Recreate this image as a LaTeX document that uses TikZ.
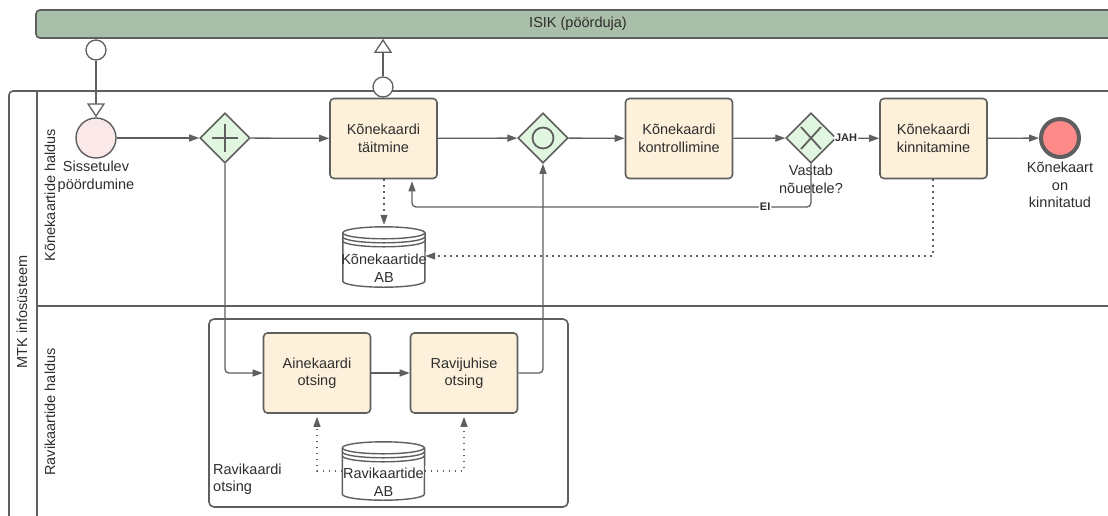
\documentclass[tikz,border=0pt]{standalone}
\usepackage{fontspec}
\setmainfont{Liberation Sans}
\usetikzlibrary{shapes.geometric,arrows.meta,calc}

\definecolor{edge}{HTML}{5F5F5F}
\definecolor{txt}{HTML}{2E2E2E}
\definecolor{poolfill}{HTML}{A9BFA9}
\definecolor{taskfill}{HTML}{FEF1DB}
\definecolor{gwfill}{HTML}{E0F6E1}
\definecolor{startfill}{HTML}{FBE9E9}
\definecolor{endfill}{HTML}{FF8A8A}

\tikzset{
  poolline/.style={draw=edge, line width=1.6pt},
  isikpool/.style={rectangle, rounded corners=4pt, draw=edge, line width=1.6pt, fill=poolfill,
    minimum width=1084pt, minimum height=28pt, inner sep=0pt},
  lanelabel/.style={rotate=90, inner sep=0pt},
  task/.style={rectangle, rounded corners=4pt, draw=edge, line width=1.6pt, fill=taskfill,
    minimum width=107pt, minimum height=80pt, align=center, inner sep=2pt, text=txt},
  subproc/.style={rectangle, rounded corners=5pt, draw=edge, line width=1.6pt,
    minimum width=359pt, minimum height=188pt, inner sep=0pt},
  gw/.style={diamond, draw=edge, line width=1.6pt, fill=gwfill,
    minimum width=50pt, minimum height=50pt, inner sep=0pt},
  gwsym/.style={draw=edge, line width=1.8pt},
  startev/.style={circle, draw=edge, line width=1.4pt, fill=startfill, minimum size=40pt, inner sep=0pt},
  endev/.style={circle, draw=edge, line width=4pt, fill=endfill, minimum size=38pt, inner sep=0pt},
  msgdot/.style={circle, draw=edge, line width=1.3pt, fill=white, minimum size=20pt, inner sep=0pt},
  evlabel/.style={align=center, inner sep=0pt, text=txt},
  flow/.style={draw=edge, line width=1.3pt, rounded corners=4pt, -{Triangle[length=10pt,width=7pt]}},
  assoc/.style={draw=edge, line width=1.3pt, dash pattern=on 1.6pt off 4.4pt, -{Triangle[length=10pt,width=7pt]}},
  msg/.style={draw=edge, line width=1.3pt, -{Triangle[open,length=14pt,width=18pt,fill=white]}},
  dbbox/.style={rectangle, draw=none, minimum width=82pt, inner sep=0pt},
  dbline/.style={draw=edge, line width=1.4pt},
  flowtag/.style={fill=white, inner sep=1pt, font=\fontsize{11}{13}\selectfont\bfseries, text=txt},
}

% data store drum drawn inside a named box node
\newcommand\dbdrum[1]{%
  \fill[white] ([yshift=-6pt]#1.north west) -- ([yshift=6pt]#1.south west)
    arc[start angle=180,end angle=360,x radius=41pt,y radius=6pt]
    -- ([yshift=-6pt]#1.north east)
    arc[start angle=0,end angle=180,x radius=41pt,y radius=6pt] -- cycle;
  \draw[dbline] ([yshift=-6pt]#1.north west) -- ([yshift=6pt]#1.south west)
    arc[start angle=180,end angle=360,x radius=41pt,y radius=6pt]
    -- ([yshift=-6pt]#1.north east);
  \draw[dbline] ([yshift=-6pt]#1.north west)
    arc[start angle=180,end angle=-180,x radius=41pt,y radius=6pt];
  \draw[dbline] ([yshift=-10pt]#1.north west)
    arc[start angle=180,end angle=360,x radius=41pt,y radius=6pt];
  \draw[dbline] ([yshift=-14pt]#1.north west)
    arc[start angle=180,end angle=360,x radius=41pt,y radius=6pt];
}

\begin{document}
\begin{tikzpicture}[x=1pt, y=-1pt, font=\fontsize{14.5}{17.5}\selectfont, text=txt]
\useasboundingbox (0,0) rectangle (1108,515);
\clip (0,0) rectangle (1108,515);
\fill[white] (0,0) rectangle (1108,515);

% ---- external participant pool
\node[isikpool] (isik) at (578,24) {ISIK (pöörduja)};

% ---- system pool with its two lanes
\draw[poolline, rounded corners=4pt] (1130,91) -- (9,91) -- (9,540);
\draw[poolline] (37,91) -- (37,540);
\draw[poolline] (37,306) -- (1130,306);
\node[lanelabel] (poolname) at (22,312) {MTK infosüsteem};
\node[lanelabel] (lane1) at (50,195) {Kõnekaartide haldus};
\node[lanelabel] (lane2) at (50,412) {Ravikaartide haldus};

% ---- embedded sub-process
\node[subproc] (sub) at (388.5,413) {};
\node[evlabel, align=left, anchor=west] (subname) at (213,479) {Ravikaardi\\otsing};

% ---- events
\node[startev] (start) at (96,138) {};
\node[evlabel] (startlbl) at (96,176.5) {Sissetulev\\pöördumine};
\node[endev] (end) at (1060,138) {};
\node[evlabel] (endlbl) at (1060,185) {Kõnekaart\\on\\kinnitatud};

% ---- gateways
\node[gw] (split) at (225,138) {};
\draw[gwsym] ($(split)+(0,-14)$) -- ($(split)+(0,14)$);
\draw[gwsym] ($(split)+(-13,0)$) -- ($(split)+(13,0)$);
\node[gw] (merge) at (543,138) {};
\draw[gwsym] (merge) circle[radius=10.5pt];
\node[gw] (check) at (811,138) {};
\draw[gwsym] ($(check)+(-10,-11)$) -- ($(check)+(10,11)$);
\draw[gwsym] ($(check)+(-10,11)$) -- ($(check)+(10,-11)$);
\node[evlabel] (checklbl) at (811,179.5) {Vastab\\nõuetele?};

% ---- tasks
\node[task] (fill) at (383.5,138.5) {Kõnekaardi\\täitmine};
\node[task] (control) at (679,138.5) {Kõnekaardi\\kontrollimine};
\node[task] (confirm) at (933.5,138.5) {Kõnekaardi\\kinnitamine};
\node[task] (subject) at (317,373) {Ainekaardi\\otsing};
\node[task] (guide) at (464,373) {Ravijuhise\\otsing};

% ---- data stores
\node[dbbox, minimum height=60pt] (calldb) at (384,257) {};
\dbdrum{calldb}
\node[evlabel] (calldbtxt) at (384,268) {Kõnekaartide\\AB};
\node[dbbox, minimum height=58pt] (carddb) at (383.5,471) {};
\dbdrum{carddb}
\node[evlabel] (carddbtxt) at (383.5,482) {Ravikaartide\\AB};

% ---- message flows
\node[msgdot] (msgin) at (96,50) {};
\draw[msg] (msgin) -- (start);
\node[msgdot] (msgout) at (383,87) {};
\draw[msg] (msgout) -- (msgout |- isik.south);

% ---- sequence flows
\draw[flow] (start) -- (split);
\draw[flow] (split) -- (fill);
\draw[flow] (fill) -- (merge);
\draw[flow] (merge) -- (control);
\draw[flow] (control) -- (check);
\draw[flow] (check) -- node[flowtag, pos=0.22] {JAH} (confirm);
\draw[flow] (confirm) -- (end);
\coordinate (eiturn) at (412,207);
\draw[flow, shorten >=2pt] (check.south) -- (check.south |- eiturn)
  -- node[flowtag, pos=0.115] {EI} (eiturn) -- (eiturn |- fill.south);
\draw[flow] (split.south) |- (subject.west);
\draw[flow] (subject) -- (guide);
\draw[flow] (guide.east) -| (merge.south);

% ---- data associations
\coordinate (dbturn) at (933,256);
\draw[assoc] (fill.south -| calldb.north) -- ([yshift=2pt]calldb.north);
\draw[assoc] (confirm.south -| dbturn) -- (dbturn) -- (dbturn -| calldb.east);
\draw[assoc, shorten >=3pt] (carddb.west) -| (subject.south);
\draw[assoc, shorten >=3pt] (carddb.east) -| (guide.south);
\end{tikzpicture}
\end{document}
